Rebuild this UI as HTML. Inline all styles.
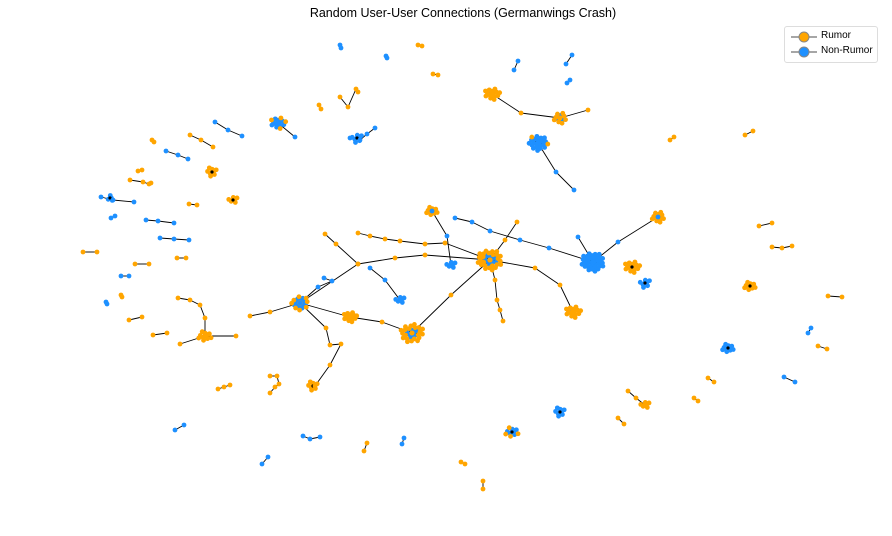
<!DOCTYPE html>
<html><head><meta charset="utf-8"><style>
body{margin:0;background:#fff;width:892px;height:536px;overflow:hidden;font-family:"Liberation Sans","DejaVu Sans",sans-serif}
#title{position:absolute;left:0;width:926px;top:6px;text-align:center;font-size:12.5px;color:#000}
#legend{position:absolute;left:784px;top:26px;width:92px;height:35px;border:1px solid #ddd;border-radius:3px;background:#fff;font-size:10px}
.li{position:absolute;left:4px;height:14px;width:90px}
.li svg{position:absolute;left:0;top:0}
.li span{position:absolute;left:32px;top:0}
</style></head><body>
<div id="title">Random User-User Connections (Germanwings Crash)</div>
<svg id="g" width="892" height="536" style="position:absolute;left:0;top:0"></svg>
<div id="legend">
 <div class="li" style="top:3px"><svg width="30" height="14"><line x1="2" y1="7" x2="28" y2="7" stroke="#888" stroke-width="1.5"/><circle cx="15" cy="7" r="5" fill="#FFA500" stroke="#888"/></svg><span>Rumor</span></div>
 <div class="li" style="top:18px"><svg width="30" height="14"><line x1="2" y1="7" x2="28" y2="7" stroke="#888" stroke-width="1.5"/><circle cx="15" cy="7" r="5" fill="#1E90FF" stroke="#888"/></svg><span>Non-Rumor</span></div>
</div>
<script>
// chains: color per chain, o = rumor, b = non-rumor
const chainColors=["o","o","b","b","o","o","b","o","b","b",
"b","o","o","o","b","o","b","o","o","o",
"o","b","b","o","o","o","o","b","b","b",
"o","o","o","o","o","b","o","o","b","o",
"o","b","o","b","b","b","o","b","o","o",
"o","o","o","o","o","o","o","b","b","o",
"o","b","o","b","b","b","o","o","b","b",
"o","o","o"];
const chainPoints=[
[[152,140],[154,142]],[[190,135],[201,140],[213,147]],[[166,151],[178,155],[188,159]],[[215,122],[228,130],[242,136]],
[[138,171],[142,170]],[[130,180],[143,182],[149,184],[151,183]],[[101,197],[113,200],[134,202]],[[189,204],[197,205]],
[[111,218],[115,216]],[[146,220],[158,221],[174,223]],[[160,238],[174,239],[189,240]],[[83,252],[97,252]],
[[135,264],[149,264]],[[177,258],[186,258]],[[121,276],[129,276]],[[121,295],[122,297]],[[106,302],[107,304]],
[[129,320],[142,317]],[[153,335],[167,333]],[[218,389],[224,387],[230,385]],[[270,376],[277,376],[279,384],[275,387],[270,393]],
[[340,45],[341,48]],[[386,56],[387,58]],[[418,45],[422,46]],[[433,74],[438,75]],[[319,105],[321,109]],
[[340,97],[348,107],[356,89],[358,92]],[[514,70],[518,61]],[[566,64],[572,55]],[[567,83],[570,80]],
[[670,140],[674,137]],[[745,135],[753,131]],[[759,226],[772,223]],[[772,247],[782,248],[792,246]],[[828,296],[842,297]],
[[808,333],[811,328]],[[818,346],[827,349]],[[708,378],[714,382]],[[784,377],[795,382]],[[694,398],[698,401]],
[[618,418],[624,424]],[[175,430],[184,425]],[[364,451],[367,443]],[[262,464],[268,457]],[[303,436],[310,439],[320,437]],
[[402,444],[404,438]],[[461,462],[465,464]],[[350,138],[360,140],[367,134],[375,128]],[[483,481],[483,489]],
[[300,303],[358,264],[395,258],[425,255],[490,260]],[[358,264],[336,244],[325,234]],
[[358,233],[370,236],[385,239],[400,241],[425,244],[445,243],[490,260]],[[300,303],[270,312],[250,316]],
[[300,303],[350,317]],[[350,317],[382,322],[412,333]],[[300,303],[326,328],[330,345],[341,344],[330,365],[315,386]],
[[412,333],[451,295],[490,260]],[[432,211],[447,236],[451,265]],[[300,303],[318,287],[332,281],[324,278]],
[[490,260],[495,280],[497,300],[500,310],[503,321]],[[490,260],[505,240],[517,222]],
[[455,218],[472,222],[490,231],[520,240],[549,248],[593,262]],[[490,260],[535,268],[560,285],[573,312]],
[[593,262],[618,242],[658,217]],[[593,262],[578,237]],[[538,143],[556,172],[574,190]],
[[560,118],[588,110]],[[492,94],[521,113],[560,118]],[[278,123],[295,137]],[[370,268],[385,280],[400,300]],
[[178,298],[190,300],[200,305],[205,318],[205,336],[236,336]],[[180,344],[205,336]],[[628,391],[636,398],[645,405]]
];
// clusters: hub positions, node counts, spread radius, share of non-rumor nodes
const clusterCenters=[[492,94],[560,118],[538,143],[278,123],[357,138],[658,217],[593,262],[632,267],[490,260],[573,312],[300,303],[350,317],[412,333],[432,211],[750,286],[728,348],[645,283],[512,432],[560,412],[645,405],[313,386],[212,172],[205,336],[233,200],[400,300],[451,265],[110,198]];
const clusterCounts=[14,12,22,14,7,12,34,14,34,14,20,14,28,10,10,10,7,10,8,6,8,8,10,6,6,6,4];
const clusterRadius=[8,7,10,8,6,7,12,8,13,8,9,7,12,6,6,6,6,7,6,5,6,6,7,5,5,5,4];
const clusterBlue=[0,0.3,0.9,0.7,1,0,1,0,0.25,0,0.6,0,0.25,0,0,1,1,0.6,1,0,0,0,0,0,1,1,1];

const C={o:"#FFA500",b:"#1E90FF"};
const svg=document.getElementById('g');const NS="http://www.w3.org/2000/svg";
const edges=document.createElementNS(NS,'g');svg.appendChild(edges);
const nodes=document.createElementNS(NS,'g');svg.appendChild(nodes);
function edge(a,b){const l=document.createElementNS(NS,'line');


l.setAttribute('x1',a[0]);l.setAttribute('y1',a[1]);l.setAttribute('x2',b[0]);l.setAttribute('y2',b[1]);
l.setAttribute('stroke','#000');l.setAttribute('stroke-width','0.9');edges.appendChild(l);}
function node(p,c){const n=document.createElementNS(NS,'circle');


n.setAttribute('cx',p[0]);n.setAttribute('cy',p[1]);n.setAttribute('r','2.4');n.setAttribute('fill',C[c]||C.o);nodes.appendChild(n);}
clusterCenters.forEach((c,i)=>{const n=clusterCounts[i],r=clusterRadius[i];
 const hub=document.createElementNS(NS,'circle');
 for(let k=0;k<n;k++){const rr=r*Math.sqrt((k+0.5)/n),a=k*2.39996;
  const p=[c[0]+rr*Math.cos(a),c[1]+rr*Math.sin(a)*0.8];edge(c,p);
  node(p,(k/n)<clusterBlue[i]?'b':'o');}
 node(c,clusterBlue[i]>0.5?'b':'o');
 const h=document.createElementNS(NS,'circle');
 
 
 h.setAttribute('cx',c[0]);h.setAttribute('cy',c[1]);h.setAttribute('r','1.6');h.setAttribute('fill','#000');nodes.appendChild(h);});
chainPoints.forEach((pts,i)=>{for(let k=1;k<pts.length;k++)edge(pts[k-1],pts[k]);pts.forEach(p=>node(p,chainColors[i]));});
</script>
</body></html>
